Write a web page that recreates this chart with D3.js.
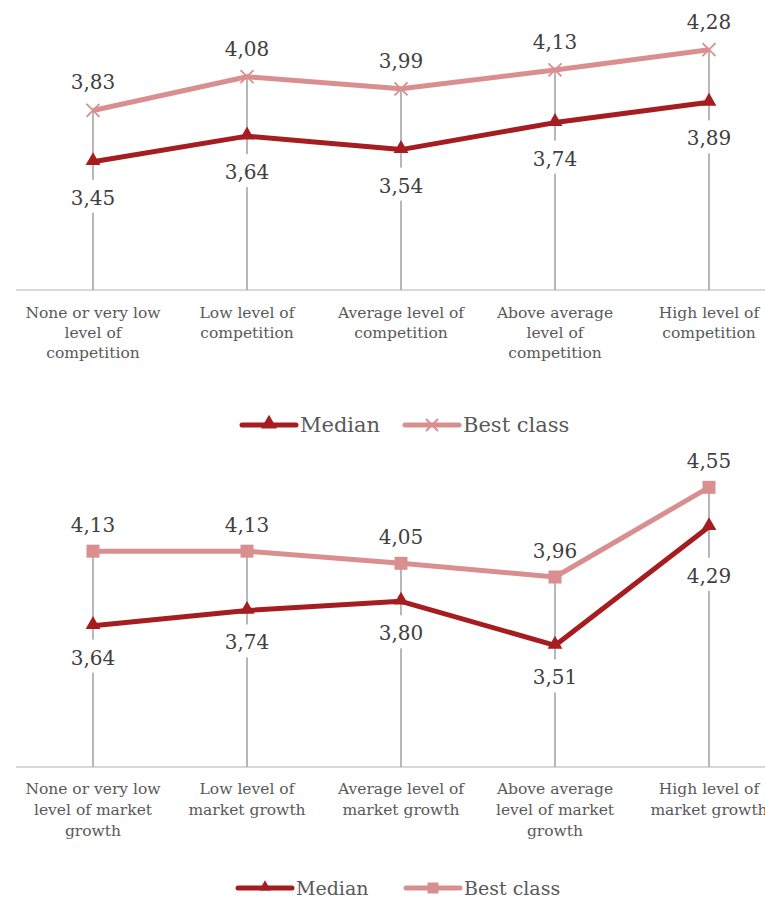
<!DOCTYPE html>
<html><head><meta charset="utf-8">
<script src="https://cdn.jsdelivr.net/npm/d3@7"></script>
<style>
html,body{margin:0;padding:0;background:#fff;}
svg{display:block;}
</style></head>
<body>
<svg id="chart" width="765" height="897"></svg>
<script>
// ---------- DATA ----------
const competitionCategories = [
  ["None or very low", "level of", "competition"],
  ["Low level of", "competition"],
  ["Average level of", "competition"],
  ["Above average", "level of", "competition"],
  ["High level of", "competition"]
];
const competitionMedian = [3.45, 3.64, 3.54, 3.74, 3.89];
const competitionBest   = [3.83, 4.08, 3.99, 4.13, 4.28];

const growthCategories = [
  ["None or very low", "level of market", "growth"],
  ["Low level of", "market growth"],
  ["Average level of", "market growth"],
  ["Above average", "level of market", "growth"],
  ["High level of", "market growth"]
];
const growthMedian = [3.64, 3.74, 3.80, 3.51, 4.29];
const growthBest   = [4.13, 4.13, 4.05, 3.96, 4.55];

const seriesNames = ["Median", "Best class"];

// ---------- STYLE ----------
const MEDIAN_COLOR = "#a51d21";
const BEST_COLOR = "#d98f8f";
const DROP_COLOR = "#a6a6a6";
const AXIS_COLOR = "#d9d9d9";
const TEXT_COLOR = "#404040";
const AXIS_TEXT = "#595959";
const FONT = "'DejaVu Serif', Georgia, serif";

const svg = d3.select("#chart");
const fmt = v => d3.format(".2f")(v).replace(".", ",");

function drawChart(cfg) {
  const g = svg.append("g");
  const x = d3.scaleBand().domain(d3.range(cfg.categories.length))
    .range([16, 786]).paddingInner(0).paddingOuter(0);
  const cx = i => x(i) + x.bandwidth() / 2;
  const y = d3.scaleLinear().domain(cfg.yDomain).range(cfg.yRange);

  // baseline
  g.append("line")
    .attr("x1", 16).attr("x2", 786)
    .attr("y1", y(cfg.yDomain[0])).attr("y2", y(cfg.yDomain[0]))
    .attr("stroke", AXIS_COLOR).attr("stroke-width", 2);

  // drop lines (high-low style)
  g.selectAll(".drop").data(cfg.best).join("line")
    .attr("x1", (d, i) => cx(i)).attr("x2", (d, i) => cx(i))
    .attr("y1", (d, i) => y(Math.max(d, cfg.median[i])))
    .attr("y2", y(cfg.yDomain[0]))
    .attr("stroke", DROP_COLOR).attr("stroke-width", 1.6);

  const line = d3.line().x((d, i) => cx(i)).y(d => y(d));

  // best class line
  g.append("path").datum(cfg.best).attr("d", line)
    .attr("fill", "none").attr("stroke", BEST_COLOR)
    .attr("stroke-width", 5).attr("stroke-linejoin", "round");
  // median line
  g.append("path").datum(cfg.median).attr("d", line)
    .attr("fill", "none").attr("stroke", MEDIAN_COLOR)
    .attr("stroke-width", 5).attr("stroke-linejoin", "round");

  // best markers
  if (cfg.bestMarker === "x") {
    const s = 6.5;
    g.selectAll(".bx").data(cfg.best).join("path")
      .attr("d", (d, i) => `M${cx(i)-s},${y(d)-s}L${cx(i)+s},${y(d)+s}M${cx(i)-s},${y(d)+s}L${cx(i)+s},${y(d)-s}`)
      .attr("stroke", BEST_COLOR).attr("stroke-width", 1.8).attr("fill", "none");
  } else {
    g.selectAll(".bs").data(cfg.best).join("rect")
      .attr("x", (d, i) => cx(i) - 6.5).attr("y", d => y(d) - 6.5)
      .attr("width", 13).attr("height", 13).attr("fill", BEST_COLOR);
  }
  // median markers (triangles)
  const tri = d3.symbol().type(d3.symbolTriangle).size(95);
  g.selectAll(".mt").data(cfg.median).join("path")
    .attr("d", tri)
    .attr("transform", (d, i) => `translate(${cx(i)},${y(d)-1})`)
    .attr("fill", MEDIAN_COLOR);

  // best labels (above)
  g.selectAll(".bl").data(cfg.best).join("text")
    .attr("x", (d, i) => cx(i)).attr("y", d => y(d) - cfg.bestLabelGap)
    .attr("text-anchor", "middle").attr("dominant-baseline", "central")
    .attr("font-family", FONT).attr("font-size", 20).attr("fill", TEXT_COLOR)
    .text(d => fmt(d));

  // median labels (below, with white box)
  const ml = g.selectAll(".ml").data(cfg.median).join("g")
    .attr("transform", (d, i) => `translate(${cx(i)},${y(d) + cfg.medianLabelGap + (cfg.medianNudge[i] || 0)})`);
  ml.append("rect").attr("x", -26).attr("y", -18).attr("width", 52).attr("height", 33)
    .attr("fill", "#fff");
  ml.append("text")
    .attr("text-anchor", "middle").attr("dominant-baseline", "central")
    .attr("font-family", FONT).attr("font-size", 20).attr("fill", TEXT_COLOR)
    .text(d => fmt(d));

  // category labels
  const cl = g.selectAll(".cl").data(cfg.categories).join("text")
    .attr("text-anchor", "middle")
    .attr("font-family", FONT).attr("font-size", 15.5).attr("fill", AXIS_TEXT);
  cl.selectAll("tspan").data((d, i) => d.map(t => ({t, i}))).join("tspan")
    .attr("x", d => cx(d.i))
    .attr("y", (d, j) => cfg.catTop + j * cfg.catLineH)
    .attr("dominant-baseline", "central")
    .text(d => d.t);

  // legend
  const lg = g.append("g").attr("transform", `translate(0,${cfg.legendY})`);
  const items = [
    {name: seriesNames[0], color: MEDIAN_COLOR, x0: cfg.legendX[0], marker: "tri"},
    {name: seriesNames[1], color: BEST_COLOR, x0: cfg.legendX[1], marker: cfg.bestMarker}
  ];
  items.forEach(it => {
    lg.append("line").attr("x1", it.x0).attr("x2", it.x0 + 54)
      .attr("y1", 0).attr("y2", 0)
      .attr("stroke", it.color).attr("stroke-width", 5).attr("stroke-linecap", "round");
    const mx = it.x0 + 27;
    if (it.marker === "tri") {
      lg.append("path").attr("d", d3.symbol().type(d3.symbolTriangle).size(cfg.legendTri)())
        .attr("transform", `translate(${mx},-1)`).attr("fill", it.color);
    } else if (it.marker === "x") {
      const s = 6;
      lg.append("path").attr("d", `M${mx-s},${-s}L${mx+s},${s}M${mx-s},${s}L${mx+s},${-s}`)
        .attr("stroke", it.color).attr("stroke-width", 1.8);
    } else {
      lg.append("rect").attr("x", mx - 5.5).attr("y", -5.5).attr("width", 11).attr("height", 11)
        .attr("fill", it.color);
    }
    lg.append("text").attr("x", it.x0 + 58).attr("y", 0)
      .attr("dominant-baseline", "central")
      .attr("font-family", FONT).attr("font-size", cfg.legendFont).attr("fill", AXIS_TEXT)
      .text(it.name);
  });
}

drawChart({
  categories: competitionCategories,
  median: competitionMedian,
  best: competitionBest,
  yDomain: [2.5, 4.5], yRange: [290, 20],
  bestMarker: "x",
  bestLabelGap: 28, medianLabelGap: 36, medianNudge: {},
  catTop: 313, catLineH: 20,
  legendY: 425, legendX: [242, 405], legendFont: 21, legendTri: 110
});

drawChart({
  categories: growthCategories,
  median: growthMedian,
  best: growthBest,
  yDomain: [2.71, 4.71], yRange: [767, 463],
  bestMarker: "square",
  bestLabelGap: 26, medianLabelGap: 32, medianNudge: {4: 17},
  catTop: 789, catLineH: 21,
  legendY: 888, legendX: [238, 406], legendFont: 19, legendTri: 60
});
</script>
</body></html>
